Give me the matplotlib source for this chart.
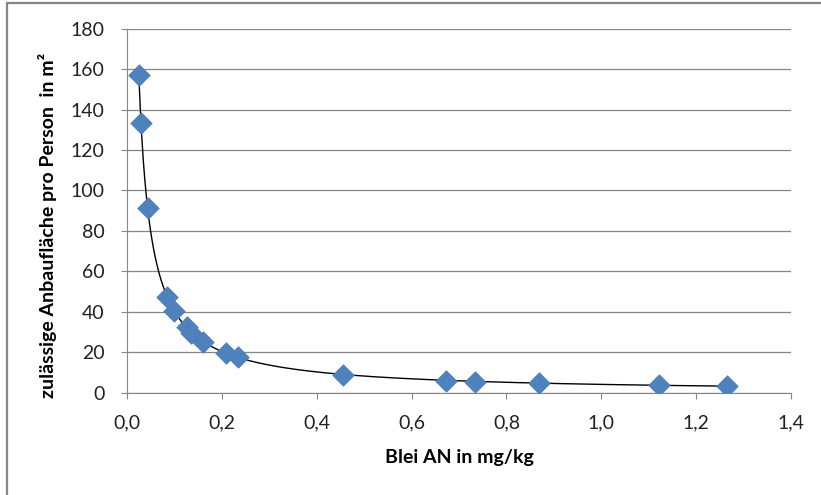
import numpy as np
import matplotlib.pyplot as plt
from matplotlib.patches import Rectangle

# values
blei = [0.025, 0.030, 0.044, 0.085, 0.100, 0.126, 0.134, 0.160, 0.208, 0.235,
        0.456, 0.673, 0.734, 0.868, 1.121, 1.265]
flaeche = [157.0, 133.3, 91.5, 47.2, 40.5, 32.4, 29.5, 25.0, 19.6, 17.6,
           8.9, 6.1, 5.6, 5.1, 4.0, 3.3]
x_ticks = [0.0, 0.2, 0.4, 0.6, 0.8, 1.0, 1.2, 1.4]
y_ticks = [0, 20, 40, 60, 80, 100, 120, 140, 160, 180]

plt.rcParams['font.family'] = ['Lato', 'DejaVu Sans']

fig = plt.figure(figsize=(8.21, 4.95), dpi=100)
ax = fig.add_axes([0.1547, 0.2061, 0.8088, 0.7363])

# power trend line, fitted on the data
b, log_a = np.polyfit(np.log(blei), np.log(flaeche), 1)
xs = np.linspace(min(blei), max(blei), 400)
ax.plot(xs, np.exp(log_a) * xs ** b, color='black', lw=1.0, zorder=3)

ax.scatter(blei, flaeche, marker='D', s=120, color='#4F81BD', edgecolors='#4A7EBB',
           linewidths=0.5, zorder=4)

ax.set_xlim(0, 1.4)
ax.set_ylim(0, 180)
ax.set_xticks(x_ticks)
ax.set_yticks(y_ticks)
ax.set_xticklabels([f'{t:.1f}'.replace('.', ',') for t in x_ticks])
ax.set_yticklabels([str(t) for t in y_ticks])
ax.yaxis.grid(True, color='#868686', lw=0.9)
ax.set_axisbelow(True)

for side in ['top', 'right']:
    ax.spines[side].set_visible(False)
for side in ['left', 'bottom']:
    ax.spines[side].set_color('#868686')
ax.tick_params(axis='both', direction='out', length=4, color='#868686',
               labelsize=14, labelcolor='#222222')
ax.tick_params(axis='x', pad=11.5)
ax.tick_params(axis='y', pad=12)

ax.set_xlabel('Blei AN in mg/kg', fontsize=14, fontweight='bold', va='center')
ax.xaxis.set_label_coords(0.5, -0.178)
ax.set_ylabel('zulässige Anbaufläche pro Person  in m²', fontsize=14,
              fontweight='bold', va='center')
ax.yaxis.set_label_coords(-0.119, 0.461)

# outer chart border (right and bottom edges fall outside the image)
fig.patches.append(Rectangle((7 / 821, -0.1), 1.2, 1.1 - 3 / 495, transform=fig.transFigure,
                             fill=False, edgecolor='#868686', lw=1.6))

fig.savefig('out.png', dpi=100)
